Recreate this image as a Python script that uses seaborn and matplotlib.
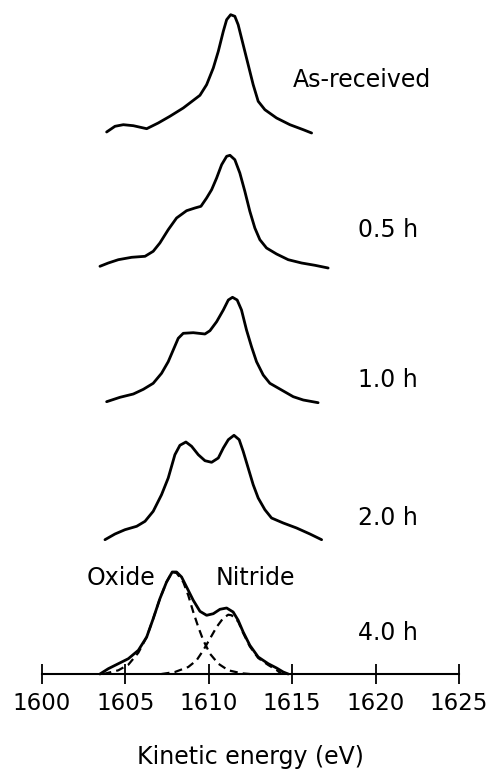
import numpy as np
import pandas as pd
import matplotlib
matplotlib.use("Agg")
import matplotlib.pyplot as plt
import seaborn as sns

# ---------------- data ----------------
labels = ["As-received", "0.5 h", "1.0 h", "2.0 h", "4.0 h"]

asrec_e = [1603.89, 1604.39, 1604.89, 1605.49, 1606.29, 1606.98, 1607.68, 1608.48, 1609.48,
           1609.88, 1610.28, 1610.58, 1610.88, 1611.08, 1611.32, 1611.57, 1611.77, 1612.07,
           1612.37, 1612.67, 1612.97, 1613.37, 1614.07, 1614.87, 1615.67, 1616.17]
asrec_i = [1, 6.7, 8.3, 7.3, 4.3, 10, 16.7, 25, 37.7,
           48.3, 65, 81.7, 101.7, 113.3, 118.3, 116.7, 108.3, 88.3,
           68.3, 48.3, 31.7, 23.3, 15, 8.3, 3.3, 0]

h05_e = [1603.49, 1603.99, 1604.59, 1605.39, 1606.19, 1606.68, 1607.08, 1607.58, 1608.08,
         1608.68, 1609.18, 1609.54, 1609.88, 1610.18, 1610.48, 1610.78, 1611.08, 1611.28,
         1611.57, 1611.87, 1612.17, 1612.47, 1612.77, 1613.07, 1613.47, 1614.07, 1614.77,
         1615.57, 1616.37, 1617.16]
h05_i = [1.7, 5, 8.3, 10.7, 11.7, 16.7, 25, 38.3, 50,
         57.3, 60, 61.7, 70, 78.3, 90, 103.3, 111.7, 112.7,
         108.3, 95, 76.7, 56.7, 40, 28.3, 20, 14, 8.3,
         5, 2.7, 0]

h10_e = [1603.89, 1604.69, 1605.49, 1606.09, 1606.68, 1607.18, 1607.58, 1607.88, 1608.18,
         1608.48, 1609.08, 1609.78, 1610.08, 1610.48, 1610.88, 1611.18, 1611.43, 1611.71,
         1611.97, 1612.27, 1612.57, 1612.87, 1613.27, 1613.67, 1614.37, 1615.07, 1615.67,
         1616.56]
h10_i = [1.3, 5.7, 9, 13.7, 19.7, 29.7, 41.3, 53, 64.7,
         69.7, 70.3, 69, 72.3, 81.3, 93, 103, 105.7, 103,
         93, 73, 56.3, 41.3, 28, 19.7, 13, 6.3, 3,
         0.3]

h20_e = [1603.79, 1604.39, 1604.99, 1605.69, 1606.19, 1606.68, 1607.18, 1607.58, 1607.98,
         1608.28, 1608.64, 1608.98, 1609.38, 1609.78, 1610.18, 1610.58, 1610.88, 1611.18,
         1611.52, 1611.83, 1612.07, 1612.37, 1612.67, 1612.97, 1613.37, 1613.77, 1614.47,
         1615.27, 1616.07, 1616.77]
h20_i = [1.3, 7, 11.3, 14.7, 19.7, 29.7, 46.3, 63, 86.3,
         95.7, 99, 94.7, 86.3, 80.3, 78.7, 83, 93, 101.3,
         105.7, 101.3, 89.7, 73, 56.3, 43, 31.3, 23, 18,
         13, 7, 1.3]

h40_e = [1603.49, 1603.99, 1604.59, 1605.19, 1605.79, 1606.29, 1606.68, 1607.08, 1607.48,
         1607.82, 1608.08, 1608.38, 1608.68, 1609.08, 1609.48, 1609.88, 1610.28, 1610.68,
         1611.08, 1611.47, 1611.77, 1612.07, 1612.47, 1612.97, 1613.57, 1614.07, 1614.47,
         1614.77]
h40_i = [0, 5.3, 10.3, 15.3, 23.7, 37, 55.3, 75.3, 92,
         102, 102, 97, 87, 73.7, 62.7, 58.7, 60.3, 64.7,
         66, 62, 53.7, 42, 28.7, 17, 10.3, 6, 2,
         0]

oxide_e = [1603.7, 1604.59, 1605.19, 1605.79, 1606.29, 1606.68, 1607.08, 1607.48, 1607.82,
           1608.08, 1608.48, 1608.78, 1609.08, 1609.38, 1609.68, 1610.08, 1610.58, 1611.18,
           1611.97, 1612.47]
oxide_i = [0, 3.7, 9.3, 21.3, 37, 55.3, 75.3, 92, 102,
           101, 92, 78.7, 62, 47, 33.7, 20.3, 10.3, 3.7,
           0.7, 0]

nitride_e = [1607.18, 1607.98, 1608.78, 1609.28, 1609.68, 1610.08, 1610.48, 1610.88, 1611.18,
             1611.38, 1611.77, 1612.07, 1612.47, 1612.97, 1613.57, 1614.07, 1614.37]
nitride_i = [0, 2, 7, 13.7, 23.7, 35.3, 47, 56, 59.3,
             58.7, 52.5, 41, 27.5, 16, 9, 4, 0]

# vertical stacking offsets of the spectra
offsets = [541, 406, 271, 133, 0]

xticks = [1600, 1605, 1610, 1615, 1620, 1625]

# ---------------- plotting ----------------
sns.set_theme(style="white")
plt.rcParams["font.family"] = ["DejaVu Sans"]
plt.rcParams["text.color"] = "black"
plt.rcParams["xtick.color"] = "black"
plt.rcParams["axes.labelcolor"] = "black"

fig = plt.figure(figsize=(4.9, 7.71), dpi=100)
ax = fig.add_axes([41.7 / 490, 97 / 771, 417.3 / 490, 674 / 771])

spectra = [(asrec_e, asrec_i), (h05_e, h05_i), (h10_e, h10_i), (h20_e, h20_i), (h40_e, h40_i)]
for (e, i), off in zip(spectra, offsets):
    df = pd.DataFrame({"energy": e, "signal": np.array(i) + off})
    sns.lineplot(data=df, x="energy", y="signal", ax=ax, color="black", lw=2.0,
                 sort=False, estimator=None, clip_on=False,
                 solid_joinstyle="round", solid_capstyle="round")

for e, i in [(oxide_e, oxide_i), (nitride_e, nitride_i)]:
    df = pd.DataFrame({"energy": e, "signal": np.array(i) + offsets[-1]})
    sns.lineplot(data=df, x="energy", y="signal", ax=ax, color="black", lw=1.6,
                 sort=False, estimator=None, clip_on=False, dashes=False,
                 linestyle=(0, (3.6, 2.3)))

ax.set_xlim(1600, 1625)
ax.set_ylim(0, 674)
ax.set_yticks([])
ax.set_xticks(xticks)
ax.set_xticklabels([str(t) for t in xticks], fontsize=16.5)
ax.tick_params(axis="x", direction="inout", length=14, width=1.3, colors="black",
               pad=6, bottom=True)
for s in ["left", "right", "top"]:
    ax.spines[s].set_visible(False)
ax.spines["bottom"].set_linewidth(1.5)
ax.spines["bottom"].set_color("black")
ax.set_ylabel("")
ax.set_xlabel("Kinetic energy (eV)", fontsize=17, color="black")
ax.xaxis.label.set_va("center")
ax.xaxis.set_label_coords(0.5, (674 - 757) / 674)
ax.set_facecolor("white")

ax.text(1615.05, 594, labels[0], fontsize=17, va="center", ha="left", color="black")
label_y = [444, 294, 156, 41]
for lab, y in zip(labels[1:], label_y):
    ax.text(1618.95, y, lab, fontsize=17, va="center", ha="left", color="black")
ax.text(1604.76, 96, "Oxide", fontsize=17, va="center", ha="center", color="black")
ax.text(1612.78, 96, "Nitride", fontsize=17, va="center", ha="center", color="black")

fig.savefig("out.png", dpi=100, facecolor="white")
